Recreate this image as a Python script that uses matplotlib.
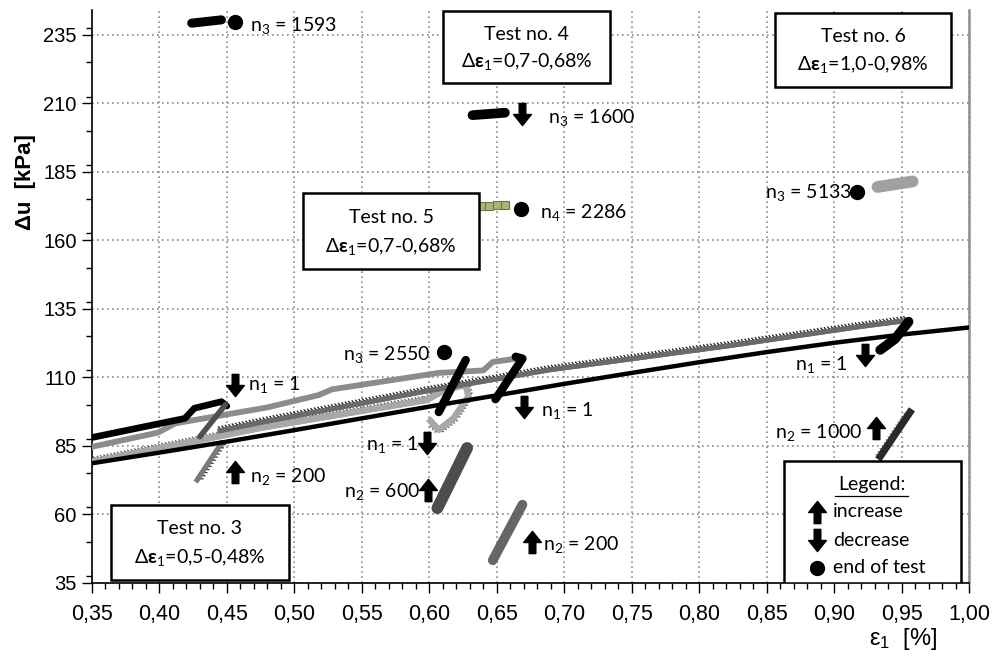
import matplotlib
matplotlib.use('Agg')
import matplotlib.pyplot as plt
import matplotlib.patheffects as pe
from matplotlib.path import Path
from matplotlib.patches import Rectangle
from matplotlib.ticker import MultipleLocator, FuncFormatter

# ---- data (strain eps1 [%], pore pressure du [kPa]) ----
# reference monotonic curve (black)
mono_x = [0.35, 0.40, 0.45, 0.50, 0.55, 0.60, 0.65, 0.70, 0.75, 0.80, 0.85, 0.90, 0.95, 1.00]
mono_y = [78.6, 82.5, 86.5, 90.7, 95.0, 99.3, 103.4, 107.6, 111.6, 115.5, 119.2, 122.6, 125.6, 128.2]

# test 3
t3_load_x = [0.35, 0.419, 0.426, 0.446, 0.450]
t3_load_y = [88.0, 95.0, 98.7, 101.1, 99.5]
t3_n1_x = [0.449, 0.430]
t3_n1_y = [100.0, 88.3]
t3_n2_x = [0.446, 0.428]
t3_n2_y = [86.0, 72.5]
t3_n3_x = [0.424, 0.446]
t3_n3_y = [239.3, 240.5]
t3_end = (0.456, 239.9)

# test 5
t5_load_x = [0.35, 0.399, 0.412, 0.48, 0.518, 0.528, 0.607, 0.640, 0.647, 0.667]
t5_load_y = [84.6, 89.8, 93.2, 99.0, 103.5, 105.6, 111.6, 112.5, 115.6, 117.0]
t5_n1_x = [0.607, 0.627]
t5_n1_y = [97.3, 116.3]
t5_n2_x = [0.606, 0.628]
t5_n2_y = [62.2, 84.2]
t5_end = (0.611, 119.3)

# test 4
t4_load_x = [0.35, 0.414, 0.478, 0.598, 0.612, 0.627, 0.629, 0.618, 0.607, 0.601]
t4_load_y = [79.2, 85.5, 91.8, 101.7, 105.5, 107.2, 103.0, 95.0, 90.8, 94.0]
t4_n1_x = [0.649, 0.669, 0.664]
t4_n1_y = [102.0, 116.8, 117.5]
t4_n2_x = [0.647, 0.669]
t4_n2_y = [43.2, 63.5]
t4_n3_x = [0.632, 0.656]
t4_n3_y = [205.7, 206.6]
t4_n4_x = [0.632, 0.638, 0.644, 0.650, 0.656]
t4_n4_y = [172.3, 172.5, 172.6, 172.8, 172.9]
t4_end = (0.668, 171.4)

# test 6
t6_load_x = [0.445, 0.478, 0.595, 0.689, 0.822, 0.919, 0.955]
t6_load_y = [90.5, 93.8, 104.7, 112.7, 121.5, 128.5, 130.8]
t6_n1_x = [0.934, 0.945, 0.955]
t6_n1_y = [120.0, 124.0, 130.3]
t6_n2_x = [0.934, 0.956]
t6_n2_y = [81.1, 97.2]
t6_n3_x = [0.932, 0.958]
t6_n3_y = [179.5, 181.5]
t6_end = (0.917, 177.8)

# arrow annotations
up_arrows = [(0.456, 75.4), (0.599, 68.9), (0.676, 50.0), (0.931, 91.4)]
down_arrows = [(0.456, 107.3), (0.598, 85.9), (0.670, 99.3), (0.923, 118.2), (0.669, 206.3)]

labels = [
    (0.467, 238.6, r'$\mathrm{n_3}$ = 1593', 'left'),
    (0.688, 204.8, r'$\mathrm{n_3}$ = 1600', 'left'),
    (0.682, 170.2, r'$\mathrm{n_4}$ = 2286', 'left'),
    (0.913, 177.3, r'$\mathrm{n_3}$ = 5133', 'right'),
    (0.601, 118.2, r'$\mathrm{n_3}$ = 2550', 'right'),
    (0.466, 107.2, r'$\mathrm{n_1}$ = 1', 'left'),
    (0.467, 73.6, r'$\mathrm{n_2}$ = 200', 'left'),
    (0.592, 85.6, r'$\mathrm{n_1}$ = 1', 'right'),
    (0.593, 68.4, r'$\mathrm{n_2}$ = 600', 'right'),
    (0.683, 98.0, r'$\mathrm{n_1}$ = 1', 'left'),
    (0.684, 48.8, r'$\mathrm{n_2}$ = 200', 'left'),
    (0.910, 114.8, r'$\mathrm{n_1}$ = 1', 'right'),
    (0.921, 90.0, r'$\mathrm{n_2}$ = 1000', 'right'),
]

# test boxes in axes fraction: (x0, y0, x1, y1, title, strain range)
boxes = [
    (0.0219, 0.0047, 0.2247, 0.1357, 'Test no. 3', '0,5-0,48%'),
    (0.4002, 0.8725, 0.5905, 0.9983, 'Test no. 4', '0,7-0,68%'),
    (0.2407, 0.5478, 0.4413, 0.6805, 'Test no. 5', '0,7-0,68%'),
    (0.7786, 0.8656, 0.9792, 0.9948, 'Test no. 6', '1,0-0,98%'),
]

x_ticks = [0.35, 0.40, 0.45, 0.50, 0.55, 0.60, 0.65, 0.70, 0.75, 0.80, 0.85, 0.90, 0.95, 1.00]
y_ticks = [35, 60, 85, 110, 135, 160, 185, 210, 235]

plt.rcParams['font.family'] = ['Lato', 'DejaVu Sans']
plt.rcParams['mathtext.fontset'] = 'custom'
plt.rcParams['mathtext.rm'] = 'Lato'
plt.rcParams['mathtext.it'] = 'Lato:italic'
plt.rcParams['mathtext.bf'] = 'Lato:bold'

FS = 14

# block arrow markers
arrow_v = [(-0.3, -1), (0.3, -1), (0.3, 0), (0.8, 0), (0, 1), (-0.8, 0), (-0.3, 0), (-0.3, -1)]
arrow_c = [Path.MOVETO] + [Path.LINETO] * 6 + [Path.CLOSEPOLY]
UP = Path(arrow_v, arrow_c)
DOWN = Path([(x, -y) for x, y in arrow_v], arrow_c)


def hatched(tick):
    return [pe.Normal(), pe.withTickedStroke(spacing=2.5, angle=120, length=1.4,
                                             linewidth=0.9, foreground=tick)]


fig = plt.figure(figsize=(9.93, 6.59), dpi=100)
ax = fig.add_axes([91.8 / 993, 76.3 / 659, 877.5 / 993, 572.7 / 659])

ax.set_xlim(0.35, 1.0)
ax.set_ylim(35, 244.1)

# curves
ax.plot(mono_x, mono_y, color='black', lw=3.2, zorder=4)

ax.plot(t4_load_x, t4_load_y, color='#a8a8a8', lw=4.5, zorder=3,
        path_effects=hatched('#606060'))
ax.plot(t5_load_x, t5_load_y, color='#8c8c8c', lw=4.2, zorder=3, solid_joinstyle='round')
ax.plot(t3_load_x, t3_load_y, color='black', lw=4.8, zorder=3, solid_capstyle='round')
ax.plot(t3_n1_x, t3_n1_y, color='#505050', lw=4, zorder=3, solid_capstyle='round')
ax.plot(t3_n2_x, t3_n2_y, color='#7a7a7a', lw=3.5, zorder=3,
        path_effects=hatched('#333333'))
ax.plot(t6_load_x, t6_load_y, color='#6a6a6a', lw=3.5, zorder=4,
        path_effects=hatched('#1a1a1a'))

ax.plot(t5_n1_x, t5_n1_y, color='black', lw=6, zorder=5, solid_capstyle='round')
ax.plot(t4_n1_x, t4_n1_y, color='black', lw=6, zorder=5, solid_capstyle='round')
ax.plot(t6_n1_x, t6_n1_y, color='black', lw=7, zorder=5, solid_capstyle='round')

ax.plot(t5_n2_x, t5_n2_y, color='#4d4d4d', lw=8.5, zorder=5, solid_capstyle='round')
ax.plot(t4_n2_x, t4_n2_y, color='#666666', lw=7, zorder=5, solid_capstyle='round')
ax.plot(t6_n2_x, t6_n2_y, color='#2a2a2a', lw=5, zorder=5,
        path_effects=hatched('#777777'))

ax.plot(t3_n3_x, t3_n3_y, color='black', lw=6.5, zorder=5, solid_capstyle='round')
ax.plot(t4_n3_x, t4_n3_y, color='black', lw=7, zorder=5, solid_capstyle='round')
ax.plot(t4_n4_x, t4_n4_y, ls='none', marker='s', ms=5.5, mfc='#a7b77a',
        mec='#6b7a3a', mew=0.8, zorder=5)
ax.plot(t6_n3_x, t6_n3_y, color='#a0a0a0', lw=8.5, zorder=5, solid_capstyle='round')

for p in [t3_end, t5_end, t4_end, t6_end]:
    ax.plot(p[0], p[1], 'o', color='black', ms=10, zorder=6)

for x, y in up_arrows:
    ax.plot(x, y, marker=UP, color='black', ms=16, ls='none', zorder=6)
for x, y in down_arrows:
    ax.plot(x, y, marker=DOWN, color='black', ms=16, ls='none', zorder=6)

for x, y, s, ha in labels:
    ax.text(x, y, s, ha=ha, va='center', fontsize=FS, zorder=7)

# test boxes
for x0, y0, x1, y1, title, rng in boxes:
    ax.add_patch(Rectangle((x0, y0), x1 - x0, y1 - y0, transform=ax.transAxes,
                           facecolor='white', edgecolor='black', lw=1.8, zorder=8))
    cx = (x0 + x1) / 2
    h = y1 - y0
    ax.text(cx, y1 - 0.32 * h, title, transform=ax.transAxes, ha='center',
            va='center', fontsize=FS, zorder=9)
    ax.text(cx, y0 + 0.3 * h, r'Δ$\mathbf{ε}_\mathrm{1}$=' + rng, transform=ax.transAxes,
            ha='center', va='center', fontsize=FS, zorder=9)

# legend box
ax.add_patch(Rectangle((0.7888, 0.0), 0.2018, 0.2125, transform=ax.transAxes,
                       facecolor='white', edgecolor='black', lw=1.8, zorder=8))
ax.text(0.8887, 0.172, 'Legend:', transform=ax.transAxes, ha='center', va='center',
        fontsize=FS, zorder=9)
ax.plot([0.847, 0.930], [0.152, 0.152], transform=ax.transAxes, color='black',
        lw=0.9, zorder=9)
leg_items = [(UP, 'increase', 0.124), (DOWN, 'decrease', 0.074), ('o', 'end of test', 0.026)]
for m, s, yy in leg_items:
    ax.plot(0.826, yy, marker=m, color='black', ms=16 if m != 'o' else 10,
            transform=ax.transAxes, zorder=9, clip_on=False)
    ax.text(0.845, yy, s, transform=ax.transAxes, ha='left', va='center',
            fontsize=FS, zorder=9)

# axes styling
ax.set_xticks(x_ticks)
ax.set_yticks(y_ticks)
ax.xaxis.set_minor_locator(MultipleLocator(0.01))
ax.yaxis.set_minor_locator(MultipleLocator(12.5))
ax.xaxis.set_major_formatter(FuncFormatter(lambda v, p: ('%.2f' % v).replace('.', ',')))
for lab in ax.get_xticklabels():
    lab.set_family(['Liberation Sans Narrow', 'Liberation Sans'])
    lab.set_fontsize(15.5)
for lab in ax.get_yticklabels():
    lab.set_family('Liberation Sans')
    lab.set_fontsize(14.5)
ax.tick_params(which='major', direction='out', length=7, width=1, pad=8, axis='x')
ax.tick_params(which='major', direction='out', length=7, width=1, pad=4, axis='y')
ax.tick_params(which='minor', direction='out', length=4, width=1)
ax.grid(True, which='major', color='#8a8a8a', lw=1.2, ls=(0, (1, 2)))

for side in ['left', 'bottom']:
    ax.spines[side].set_linewidth(1.2)
ax.spines['top'].set_visible(False)
ax.spines['right'].set_color('#909090')
ax.spines['right'].set_linewidth(1.8)

ax.set_ylabel('Δu  [kPa]', fontsize=16, fontweight='bold', family='Liberation Sans')
ax.yaxis.set_label_coords(-0.064, 0.70)
ax.set_xlabel(r'ε$_\mathregular{1}$  [%]', fontsize=17,
              family=['Liberation Sans Narrow', 'Liberation Sans'])
ax.xaxis.set_label_coords(0.925, -0.075)

fig.savefig('out.png', dpi=100)
